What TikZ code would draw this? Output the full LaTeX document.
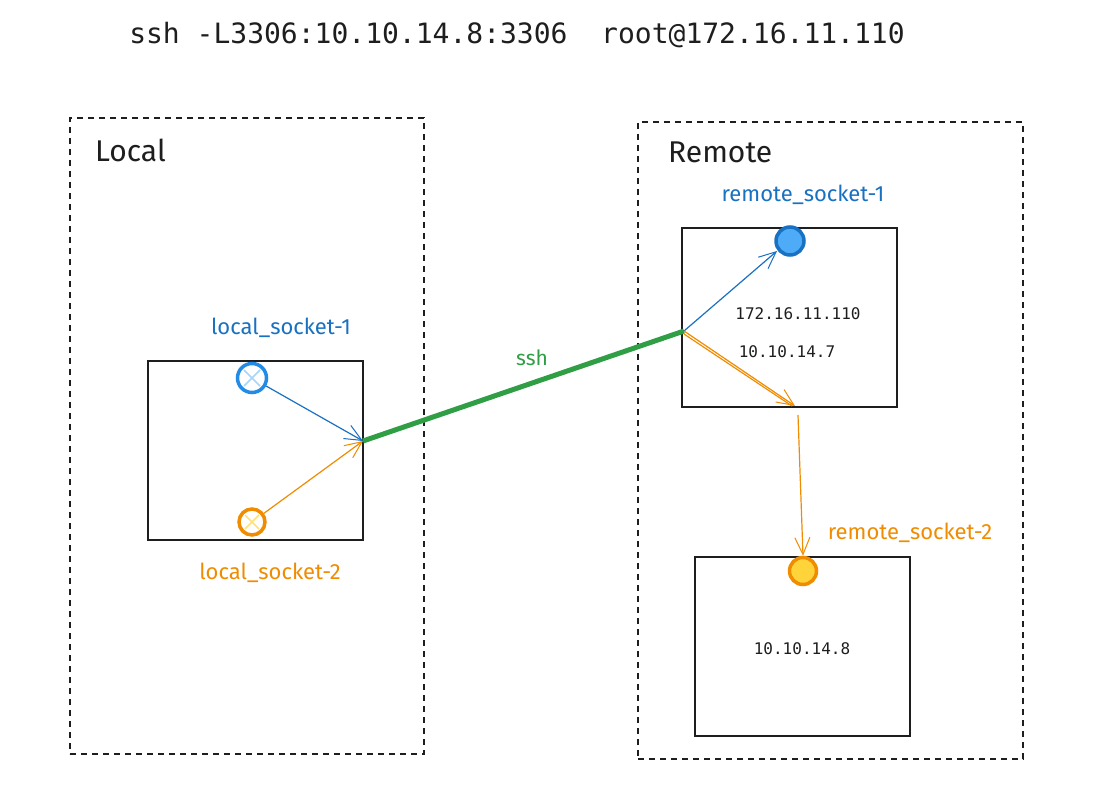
\documentclass[tikz,border=0pt]{standalone}
\usepackage{fontspec}
\setmainfont{Fira Sans}
\newfontfamily\monof{DejaVu Sans Mono}
\usetikzlibrary{arrows.meta,calc}
\definecolor{ink}{HTML}{1E1E1E}
\definecolor{sblue}{HTML}{1971C2}
\definecolor{lblue}{HTML}{4DABF7}
\definecolor{mblue}{HTML}{228BE6}
\definecolor{sorange}{HTML}{F08C00}
\definecolor{syellow}{HTML}{FFD43B}
\definecolor{sgreen}{HTML}{2F9E44}
\tikzset{
  zone/.style={draw=ink, line width=1.2pt, dash pattern=on 6pt off 5pt, minimum width=#1, inner sep=0pt},
  hostbox/.style={draw=ink, line width=2pt, minimum width=215pt, minimum height=179pt, inner sep=0pt},
  zonelabel/.style={font=\fontsize{30}{34}\selectfont, text=ink, anchor=west, inner sep=0pt},
  socklabel/.style={font=\fontsize{22}{26}\selectfont},
  iptext/.style={font=\monof\fontsize{16}{19}\selectfont, text=ink},
  sock/.style={circle, line width=3.5pt, minimum size=#1, inner sep=0pt},
  tip/.style={-{Straight Barb[length=17pt,width=15pt,line width=1pt]}},
}
\begin{document}
\begin{tikzpicture}[x=1pt,y=-1pt]
\useasboundingbox (0,0) rectangle (1100,799);
\fill[white] (0,0) rectangle (1100,799);

% title
\node[font=\monof\fontsize{28}{32}\selectfont, text=ink] (title) at (517,35) {ssh -L3306:10.10.14.8:3306\ \ root@172.16.11.110};

% zones
\node[zone=354pt, minimum height=636pt] (localzone) at (247,436) {};
\node[zone=385pt, minimum height=637pt] (remotezone) at (830.5,440.5) {};
\node[zonelabel] (locallabel) at (95,150) {Local};
\node[zonelabel] (remotelabel) at (668,152) {Remote};

% hosts
\node[hostbox] (localhost) at (255.5,450.5) {};
\node[hostbox] (remote1) at (789.5,317.5) {};
\node[hostbox] (remote2) at (802.5,646.5) {};

\node[iptext] (ip1) at (798,314) {172.16.11.110};
\node[iptext] (ip2) at (787,352) {10.10.14.7};
\node[iptext] (ip3) at (802,649) {10.10.14.8};

% sockets
\node[sock=29pt, draw=mblue, fill=white] (ls1) at (252,378) {};
\draw[lblue!50, line width=1.5pt] ($(ls1.center)+(-8,-8)$) -- ($(ls1.center)+(8,8)$)
  ($(ls1.center)+(-8,8)$) -- ($(ls1.center)+(8,-8)$);
\node[sock=26pt, draw=sorange, fill=white] (ls2) at (252,522) {};
\draw[syellow!70, line width=1.5pt] ($(ls2.center)+(-7,-7)$) -- ($(ls2.center)+(7,7)$)
  ($(ls2.center)+(-7,7)$) -- ($(ls2.center)+(7,-7)$);
\node[sock=28pt, draw=sblue, fill=lblue] (rs1) at (790,241) {};
\node[sock=27pt, draw=sorange, fill=syellow] (rs2) at (803,571) {};

\node[socklabel, text=sblue] (ls1lab) at (281,328) {local\_socket-1};
\node[socklabel, text=sorange] (ls2lab) at (270,573) {local\_socket-2};
\node[socklabel, text=sblue] (rs1lab) at (803,195) {remote\_socket-1};
\node[socklabel, text=sorange] (rs2lab) at (910,533) {remote\_socket-2};

% ports
\coordinate (lport) at (363,441);
\coordinate (rport) at (684,331);
\coordinate (r1bottom) at (795,406);
\coordinate (r1out) at (798,415);
\coordinate (rs1in) at (777,251);

% connectors
\draw[tip, sblue, line width=1.2pt] (ls1) -- (lport);
\draw[tip, sorange, line width=1.2pt] (ls2) -- (lport);
\draw[sgreen, line width=5pt] (lport) -- (rport);
\node[socklabel, text=sgreen, font=\fontsize{21}{24}\selectfont] (sshlab) at (532,358) {ssh};
\draw[tip, sblue, line width=1.2pt] (rport) -- (rs1in);
\draw[tip, sorange, line width=1.2pt] (rport) -- (r1bottom);
\draw[sorange, line width=1.2pt] ($(rport)+(0,3)$) -- ($(r1bottom)+(-3,0)$);
\draw[tip, sorange, line width=1.2pt] (r1out) -- (rs2.north);
\end{tikzpicture}
\end{document}
